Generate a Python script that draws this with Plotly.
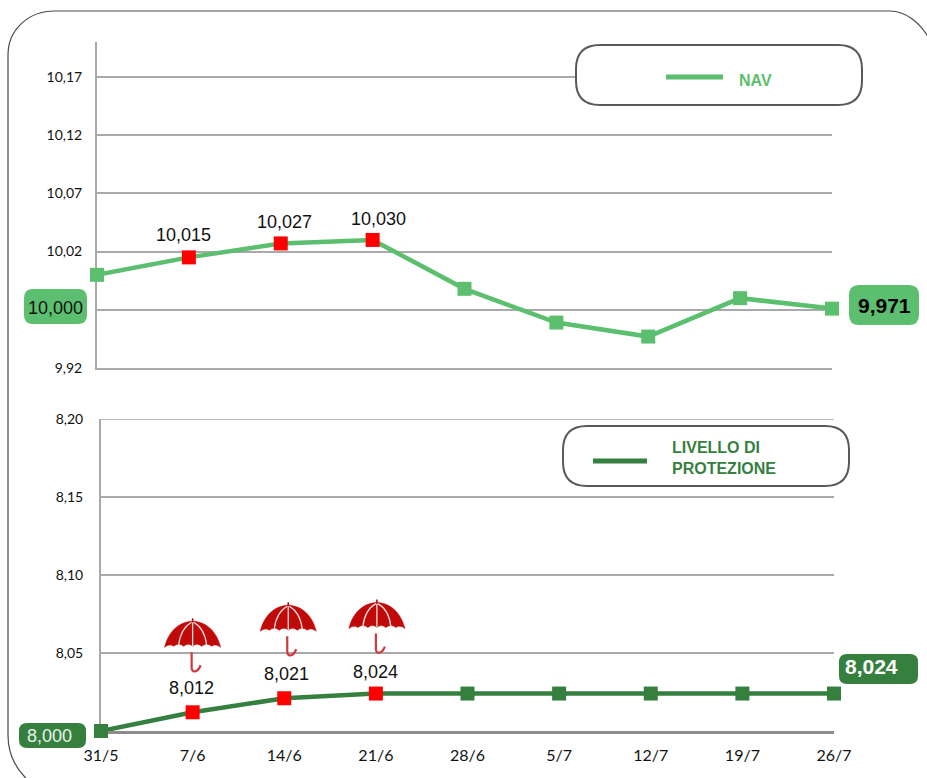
import plotly.graph_objects as go

W, H = 927, 778
dates = ["31/5", "7/6", "14/6", "21/6", "28/6", "5/7", "12/7", "19/7", "26/7"]
nav = [10.000, 10.015, 10.027, 10.030, 9.988, 9.959, 9.947, 9.980, 9.971]
protection = [8.000, 8.012, 8.021, 8.024, 8.024, 8.024, 8.024, 8.024, 8.024]
nav_ticks = [9.92, 9.97, 10.02, 10.07, 10.12, 10.17]
nav_tick_text = ["9,92", "", "10,02", "10,07", "10,12", "10,17"]
prot_ticks = [8.00, 8.05, 8.10, 8.15, 8.20]
prot_tick_text = ["", "8,05", "8,10", "8,15", "8,20"]
nav_marked = [1, 2, 3]
prot_marked = [1, 2, 3]

GREEN = "#5cbf6f"
DARK = "#357f3f"
RED = "#ff0000"
GRID = "#a9a9a9"


def px(x):
    return x / W


def py(y):
    return 1 - y / H


def pp(x, y):
    return f"{px(x):.5f},{py(y):.5f}"


def rounded(x0, y0, x1, y1, r, fill, line=None, lw=0):
    d = (f"M{pp(x0 + r, y0)} L{pp(x1 - r, y0)} Q{pp(x1, y0)} {pp(x1, y0 + r)} "
         f"L{pp(x1, y1 - r)} Q{pp(x1, y1)} {pp(x1 - r, y1)} L{pp(x0 + r, y1)} "
         f"Q{pp(x0, y1)} {pp(x0, y1 - r)} L{pp(x0, y0 + r)} Q{pp(x0, y0)} {pp(x0 + r, y0)} Z")
    return dict(type="path", xref="paper", yref="paper", path=d, fillcolor=fill,
                line=dict(color=line or fill, width=lw), layer="above")


def label(x, y, text, size, color, bold=False, family="Liberation Sans", xanchor="center", align="center"):
    return dict(xref="paper", yref="paper", x=px(x), y=py(y), text=f"<b>{text}</b>" if bold else text,
                showarrow=False, xanchor=xanchor, yanchor="middle", align=align,
                font=dict(size=size, color=color, family=family))


fig = go.Figure()
for values, col, xa, ya, name, marked in [
    (nav, GREEN, "x", "y", "NAV", nav_marked),
    (protection, DARK, "x2", "y2", "LIVELLO DI PROTEZIONE", prot_marked),
]:
    fig.add_trace(go.Scatter(
        x=dates, y=values, xaxis=xa, yaxis=ya, name=name, mode="lines+markers", cliponaxis=False,
        line=dict(color=col, width=4.5),
        marker=dict(symbol="square", size=14, color=[RED if i in marked else col for i in range(len(dates))]),
        showlegend=False, hoverinfo="x+y",
    ))

annotations = []
nav_shift = {1: (-5, 22), 2: (4, 21), 3: (6, 21)}
for i in nav_marked:
    annotations.append(dict(xref="x", yref="y", x=dates[i], y=nav[i], text=f"{nav[i]:.3f}".replace(".", ","),
                            showarrow=False, xshift=nav_shift[i][0], yshift=nav_shift[i][1],
                            font=dict(size=18, color="#111111", family="Liberation Sans")))
prot_shift = {1: (-1, 24), 2: (2, 24), 3: (0, 22)}
for i in prot_marked:
    annotations.append(dict(xref="x2", yref="y2", x=dates[i], y=protection[i],
                            text=f"{protection[i]:.3f}".replace(".", ","),
                            showarrow=False, xshift=prot_shift[i][0], yshift=prot_shift[i][1],
                            font=dict(size=18, color="#111111", family="Liberation Sans")))

shapes = [
    dict(type="line", xref="x2 domain", yref="y2", x0=0, x1=1, y0=prot_ticks[-1], y1=prot_ticks[-1],
         line=dict(color=GRID, width=1.5), layer="below"),
    dict(type="path", xref="paper", yref="paper", layer="above", line=dict(color="#4a4a4a", width=1.2),
         path=(f"M{pp(30, 782)} C{pp(16, 770)} {pp(8, 755)} {pp(8, 735)} L{pp(8, 55)} "
               f"C{pp(8, 30)} {pp(28, 11)} {pp(55, 11)} L{pp(890, 11)} "
               f"C{pp(905, 11)} {pp(920, 22)} {pp(930, 40)}")),
    rounded(576, 45, 862, 105, 24, "#ffffff", "#595959", 2),
    rounded(563, 426, 849, 486, 24, "#ffffff", "#595959", 2),
    dict(type="line", xref="paper", yref="paper", x0=px(666), x1=px(723), y0=py(77), y1=py(77),
         line=dict(color=GREEN, width=5), layer="above"),
    dict(type="line", xref="paper", yref="paper", x0=px(593), x1=px(647), y0=py(461), y1=py(461),
         line=dict(color=DARK, width=5), layer="above"),
    rounded(24, 289, 87, 324, 9, GREEN),
    rounded(849, 285, 919, 325, 10, GREEN),
    rounded(19, 723, 86, 748, 8, DARK),
    rounded(839, 654, 918, 684, 8, DARK),
]

# Umbrella glyphs, pinned to the marked points of the protection line
for i, dx, up in [(1, 0, 94), (2, 4, 96), (3, 1, 94)]:
    def at(a, b):
        return f"{a + dx},{b + up}"

    common = dict(type="path", xref="x2", yref="y2", xsizemode="pixel", ysizemode="pixel",
                  xanchor=dates[i], yanchor=protection[i], layer="above")
    canopy = (f"M{at(-28, -29)} C{at(-24, -12)} {at(-12, -3)} {at(0, -3)} C{at(12, -3)} {at(24, -12)} {at(28, -29)} "
              f"Q{at(23, -25)} {at(19, -28)} Q{at(14, -24)} {at(9, -28)} Q{at(4, -24)} {at(0, -28)} "
              f"Q{at(-4, -24)} {at(-9, -28)} Q{at(-14, -24)} {at(-19, -28)} Q{at(-23, -25)} {at(-28, -29)} Z")
    shapes.append(dict(common, path=canopy, fillcolor="#c00a0a", line=dict(color="#c00a0a", width=0.5)))
    ribs = (f"M{at(0, -4)} L{at(0, -28)} M{at(-1, -4)} Q{at(-12, -10)} {at(-14, -27)} "
            f"M{at(1, -4)} Q{at(12, -10)} {at(14, -27)}")
    shapes.append(dict(common, path=ribs, line=dict(color="#f6dcdc", width=1.3)))
    shapes.append(dict(common, path=f"M{at(0, 0)} L{at(0, -4)}", line=dict(color="#c00a0a", width=1.6)))
    handle = f"M{at(-1, -34)} L{at(-1, -49)} Q{at(-1, -54)} {at(3, -53)} Q{at(6, -52)} {at(8, -47)}"
    shapes.append(dict(common, path=handle, line=dict(color="#d0383c", width=2.2)))

annotations += [
    label(755, 81, "NAV", 16, GREEN, bold=True),
    label(670, 458, "LIVELLO DI<br>PROTEZIONE", 16, DARK, bold=True, xanchor="left", align="left"),
    label(55, 308, "10,000", 18, "#111111"),
    label(884, 305, "9,971", 21, "#000000", bold=True),
    label(49, 736, "8,000", 18, "#e8f3ea"),
    label(871, 666, "8,024", 21, "#ffffff", bold=True),
]

tick_font = dict(family="Lato", size=14, color="#111111")
fig.update_layout(
    width=W, height=H, margin=dict(l=0, r=0, t=0, b=0), autosize=False,
    paper_bgcolor="#ffffff", plot_bgcolor="#ffffff",
    shapes=shapes, annotations=annotations,
    xaxis=dict(domain=[px(97), px(832)], anchor="y", type="category", categoryorder="array", categoryarray=dates,
               range=[0, 8], automargin=False, layer="below traces", showticklabels=False, showgrid=False,
               showline=True, linecolor=GRID, linewidth=2, ticks="", zeroline=False),
    yaxis=dict(domain=[py(368), py(42)], anchor="x", range=[9.92, 10.20], tickvals=nav_ticks, ticktext=nav_tick_text,
               automargin=False, layer="below traces", showgrid=True, gridcolor=GRID, gridwidth=1.5, showline=True,
               linecolor=GRID, linewidth=2, ticks="outside", ticklen=10, tickcolor="rgba(0,0,0,0)",
               tickfont=tick_font, zeroline=False),
    xaxis2=dict(domain=[px(101), px(834)], anchor="y2", type="category", categoryorder="array", categoryarray=dates,
                range=[0, 8], automargin=False, layer="below traces", showgrid=False, showline=True,
                linecolor="#8c8c8c", linewidth=2.5, ticks="outside", ticklen=8, tickcolor="rgba(0,0,0,0)",
                tickfont=dict(tick_font, size=16), zeroline=False),
    yaxis2=dict(domain=[py(731), py(419)], anchor="x2", range=[8.00, 8.20], tickvals=prot_ticks, ticktext=prot_tick_text,
                automargin=False, layer="below traces", showgrid=True, gridcolor=GRID, gridwidth=1.5, showline=True,
                linecolor=GRID, linewidth=2, ticks="outside", ticklen=13, tickcolor="rgba(0,0,0,0)",
                tickfont=tick_font, zeroline=False),
)

fig.write_html("out.html", config={"displayModeBar": False},
               post_script="document.body.style.margin='0';document.documentElement.style.overflow='hidden';")
